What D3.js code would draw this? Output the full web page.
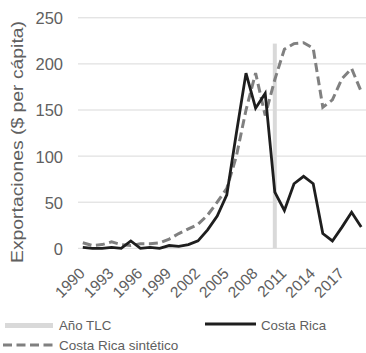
<!DOCTYPE html>
<html>
<head>
<meta charset="utf-8">
<script src="https://cdn.jsdelivr.net/npm/d3@7"></script>
<style>
  html, body { margin: 0; padding: 0; background: #ffffff; }
  svg { display: block; }
  text { font-family: "Liberation Sans", Arial, sans-serif; fill: #606060; }
</style>
</head>
<body>
<svg id="chart" width="366" height="353"></svg>
<script>
const years = d3.range(1990, 2020).map(String);
const tickYears = ["1990","1993","1996","1999","2002","2005","2008","2011","2014","2017"];
const costaRica = [1, 0, 0, 1, 0, 8, 0, 1, 0, 3,
                   2, 4, 8, 20, 35, 58, 125, 190, 152, 168,
                   61, 41, 70, 78, 70, 16, 8, 23, 39, 23];
const costaRicaSint = [6, 3, 4, 7, 4, 3, 5, 5, 6, 10,
                       16, 21, 26, 36, 50, 65, 100, 150, 190, 144,
                       183, 216, 222, 223, 217, 153, 161, 184, 195, 170];
const tlcYear = ["2010"];
const tlcValue = [222];
const yTicks = [0, 50, 100, 150, 200, 250];
const legendLabels = ["Año TLC", "Costa Rica", "Costa Rica sintético"];

const svg = d3.select("#chart");
const x = d3.scaleBand().domain(years).range([78, 366]).padding(0);
const y = d3.scaleLinear().domain([0, 250]).range([248.3, 17.8]);
const cx = d => x(d) + x.bandwidth() / 2;

// gridlines
svg.append("g").selectAll("line").data(yTicks).join("line")
  .attr("x1", 78).attr("x2", 366)
  .attr("y1", d => y(d)).attr("y2", d => y(d))
  .attr("stroke", "#d9d9d9").attr("stroke-width", 1);

// y axis labels
const yAxis = d3.axisLeft(y).tickValues(yTicks).tickSize(0).tickPadding(0);
const gy = svg.append("g").attr("transform", "translate(63,0)").call(yAxis);
gy.select(".domain").remove();
gy.selectAll("text").attr("font-size", 16.5).attr("fill", "#606060")
  .attr("font-family", "Liberation Sans, Arial, sans-serif").attr("dy", "0.36em");

// x axis labels
const xAxis = d3.axisBottom(x).tickValues(tickYears).tickSize(0).tickPadding(0);
const gx = svg.append("g").attr("transform", "translate(0,248.3)").call(xAxis);
gx.select(".domain").remove();
gx.selectAll("text")
  .attr("font-size", 15.5).attr("fill", "#606060")
  .attr("font-family", "Liberation Sans, Arial, sans-serif")
  .attr("text-anchor", "end")
  .attr("dy", null).attr("y", 0)
  .attr("transform", "translate(3,26) rotate(-45)");

// TLC bar
svg.append("g").selectAll("rect").data(tlcYear).join("rect")
  .attr("x", d => cx(d) - 2).attr("width", 4)
  .attr("y", (d, i) => y(tlcValue[i])).attr("height", (d, i) => y(0) - y(tlcValue[i]))
  .attr("fill", "#d9d9d9");

// lines
const lineGen = d3.line().x((d, i) => cx(years[i])).y(d => y(d));
svg.append("path").datum(costaRicaSint).attr("d", lineGen)
  .attr("fill", "none").attr("stroke", "#808080").attr("stroke-width", 3)
  .attr("stroke-dasharray", "9,4.5");
svg.append("path").datum(costaRica).attr("d", lineGen)
  .attr("fill", "none").attr("stroke", "#1e1e1e").attr("stroke-width", 2.8)
  .attr("stroke-linejoin", "miter");

// y title
svg.append("text").attr("transform", "translate(23,142) rotate(-90)")
  .attr("text-anchor", "middle").attr("font-size", 16)
  .attr("textLength", 242).attr("lengthAdjust", "spacingAndGlyphs")
  .text("Exportaciones ($ per cápita)");

// legend
const lg = svg.append("g");
lg.append("rect").attr("x", 5).attr("y", 323).attr("width", 48).attr("height", 5).attr("fill", "#d9d9d9");
lg.append("text").attr("x", 59).attr("y", 330).attr("font-size", 13.3).text(legendLabels[0]);
lg.append("line").attr("x1", 205).attr("x2", 256).attr("y1", 324).attr("y2", 324)
  .attr("stroke", "#1e1e1e").attr("stroke-width", 2.8);
lg.append("text").attr("x", 261).attr("y", 330).attr("font-size", 13.3).text(legendLabels[1]);
lg.append("line").attr("x1", 3).attr("x2", 57).attr("y1", 345).attr("y2", 345)
  .attr("stroke", "#808080").attr("stroke-width", 3).attr("stroke-dasharray", "9,4.5");
lg.append("text").attr("x", 59).attr("y", 350).attr("font-size", 13.5).text(legendLabels[2]);
</script>
</body>
</html>
